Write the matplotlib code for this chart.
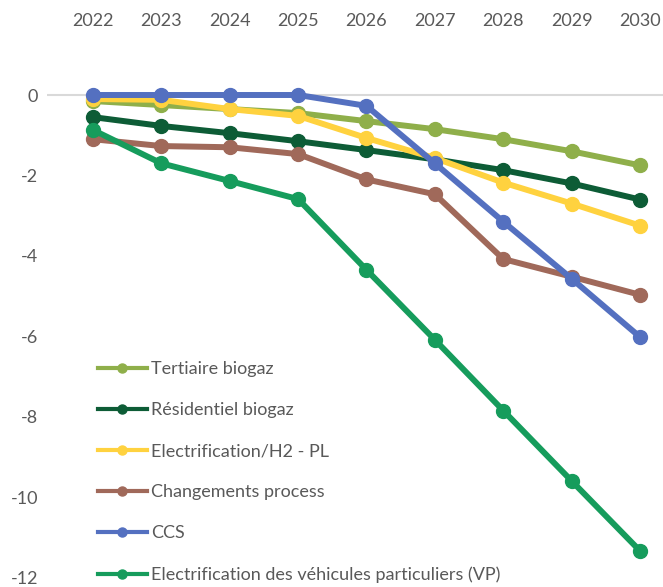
import matplotlib
matplotlib.use("Agg")
import matplotlib.pyplot as plt
from matplotlib.lines import Line2D

years = [2022, 2023, 2024, 2025, 2026, 2027, 2028, 2029, 2030]
tertiaire = [-0.15, -0.25, -0.35, -0.45, -0.65, -0.85, -1.10, -1.40, -1.75]
residentiel = [-0.55, -0.77, -0.95, -1.15, -1.37, -1.60, -1.87, -2.20, -2.60]
electrif_pl = [-0.10, -0.12, -0.35, -0.52, -1.07, -1.57, -2.18, -2.70, -3.25]
process = [-1.10, -1.27, -1.30, -1.47, -2.10, -2.47, -4.08, -4.52, -4.97]
ccs = [0.0, 0.0, 0.0, 0.0, -0.27, -1.70, -3.15, -4.57, -6.02]
electrif_vp = [-0.87, -1.70, -2.14, -2.59, -4.35, -6.09, -7.85, -9.60, -11.34]

labels = ["Tertiaire biogaz", "Résidentiel biogaz", "Electrification/H2 - PL",
          "Changements process", "CCS", "Electrification des véhicules particuliers (VP)"]
series = [tertiaire, residentiel, electrif_pl, process, ccs, electrif_vp]
colors = ["#8FAF4A", "#0D5C36", "#FFD23F", "#A0695A", "#5470C0", "#169C5C"]
yticks = [0, -2, -4, -6, -8, -10, -12]

plt.rcParams['font.family'] = ['Lato', 'DejaVu Sans']
txt = "#595959"

W, H = 663, 587
fig = plt.figure(figsize=(W / 100, H / 100), dpi=100)
left_px, right_px = 47, 663
zero_px, unit_px = 95, 40.2
ytop = 1.6
top_px = zero_px - ytop * unit_px
bot_px = zero_px + 12 * unit_px
ax = fig.add_axes([left_px / W, 1 - bot_px / H, (right_px - left_px) / W, (bot_px - top_px) / H])

ax.axhline(0, color="#D9D9D9", lw=1.5, zorder=1)
for vals, c in zip(series, colors):
    ax.plot(years, vals, color=c, lw=4.3, marker="o", markersize=10, clip_on=False, zorder=3)

ax.set_xlim(2022 - 46 / 68.4, 2030 + 23 / 68.4)
ax.set_ylim(-12, ytop)
ax.set_xticks(years)
ax.set_xticklabels([str(y) for y in years])
ax.xaxis.tick_top()
ax.set_yticks(yticks)
ax.set_yticklabels([str(v) for v in yticks])
ax.tick_params(axis="both", length=0, labelsize=13, colors=txt)
ax.tick_params(axis="y", pad=6.5)
ax.tick_params(axis="x", pad=1)
for s in ax.spines.values():
    s.set_visible(False)

handles = [Line2D([0], [0], color=c, lw=3, marker="o", markersize=6.5) for c in colors]
leg = ax.legend(handles, labels, loc="upper left", bbox_to_anchor=(98 / W, 1 - 361 / H),
                bbox_transform=fig.transFigure, frameon=False, fontsize=13,
                handlelength=2.7, handletextpad=0.22, labelspacing=1.39, borderpad=0,
                borderaxespad=0)
for t in leg.get_texts():
    t.set_color(txt)

fig.savefig("out.png", dpi=100)
